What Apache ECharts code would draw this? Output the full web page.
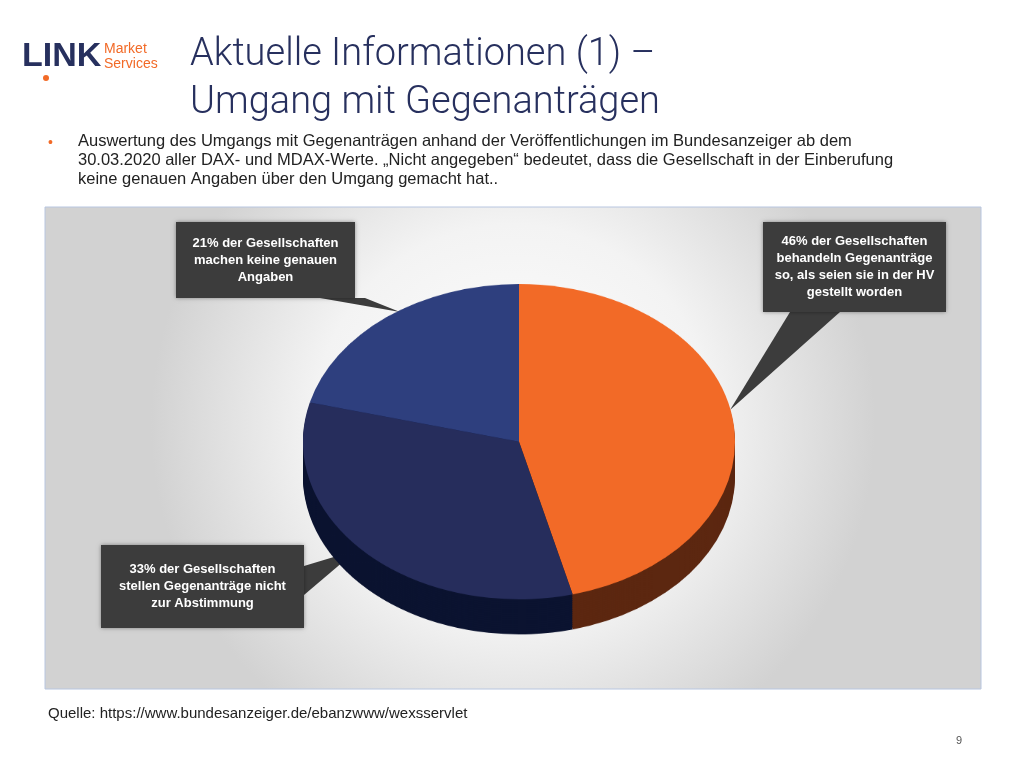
<!DOCTYPE html>
<html>
<head>
<meta charset="utf-8">
<script src="https://cdn.jsdelivr.net/npm/echarts@6/dist/echarts.min.js"></script>
<style>
html,body{margin:0;padding:0;background:#fff;}
#main{position:absolute;left:0;top:0;width:1024px;height:768px;}
#pie{position:absolute;left:303px;top:284px;width:432px;height:490px;transform:scaleY(0.73);transform-origin:top left;}
</style>
</head>
<body>
<div id="main"></div>
<div id="pie"></div>
<script>
// Daten
var categories = ['behandeln wie in HV gestellt', 'nicht zur Abstimmung', 'keine genauen Angaben'];
var values = [46, 33, 21];
var topColors = ['#F26A27', '#262D5C', '#2E3F7E'];
var sideColors = ['#5C2710', '#0B1330', '#111A40'];
var calloutTexts = [
    '46% der Gesellschaften\nbehandeln Gegenanträge\nso, als seien sie in der HV\ngestellt worden',
    '33% der Gesellschaften\nstellen Gegenanträge nicht\nzur Abstimmung',
    '21% der Gesellschaften\nmachen keine genauen\nAngaben'
];

var font = 'Helvetica, Arial, "Liberation Sans", sans-serif';

// Seite
var page = echarts.init(document.getElementById('main'));
function box(x, y, w, h, tri, txt) {
    return [
        { type: 'polygon', shape: { points: tri }, style: { fill: '#3C3C3C' } },
        { type: 'rect', shape: { x: x, y: y, width: w, height: h }, style: { fill: '#3C3C3C', shadowBlur: 4, shadowColor: 'rgba(0,0,0,0.4)' } },
        { type: 'text', x: x + w / 2, y: y + h / 2, style: { text: txt, fill: '#fff', font: 'bold 13px ' + font, align: 'center', verticalAlign: 'middle', lineHeight: 17 } }
    ];
}
var g = [
    { type: 'text', x: 22, y: 40, style: { text: 'LINK', fill: '#27305E', font: 'bold 34px ' + font } },
    { type: 'circle', shape: { cx: 46, cy: 78, r: 3 }, style: { fill: '#F26A27' } },
    { type: 'text', x: 104, y: 42, style: { text: 'Market\nServices', fill: '#F26A27', font: '14px ' + font, lineHeight: 15 } },
    { type: 'text', x: 190, y: 31, style: { text: 'Aktuelle Informationen (1) –\nUmgang mit Gegenanträgen', fill: '#27305E', font: '300 38px Roboto, sans-serif', lineHeight: 48 } },
    { type: 'text', x: 48, y: 136, style: { text: '•', fill: '#F26A27', font: '14px ' + font } },
    { type: 'text', x: 78, y: 132, style: { text: 'Auswertung des Umgangs mit Gegenanträgen anhand der Veröffentlichungen im Bundesanzeiger ab dem\n30.03.2020 aller DAX- und MDAX-Werte. „Nicht angegeben“ bedeutet, dass die Gesellschaft in der Einberufung\nkeine genauen Angaben über den Umgang gemacht hat..', fill: '#222', font: '16.5px ' + font, lineHeight: 19 } },
    { type: 'rect', shape: { x: 45, y: 207, width: 936, height: 482 },
      style: { fill: { type: 'radial', x: 0.5, y: 0.45, r: 0.75, colorStops: [{ offset: 0, color: '#ffffff' }, { offset: 0.55, color: '#f3f3f3' }, { offset: 1, color: '#d2d2d2' }] }, stroke: '#B8C6E0', lineWidth: 1 } },
    { type: 'text', x: 48, y: 706, style: { text: 'Quelle: https://www.bundesanzeiger.de/ebanzwww/wexsservlet', fill: '#222', font: '15px ' + font } },
    { type: 'text', x: 956, y: 735, style: { text: '9', fill: '#555', font: '11px ' + font } }
];
g = g.concat(box(763, 222, 183, 90, [[790, 312], [840, 312], [730, 410]], calloutTexts[0]));
g = g.concat(box(101, 545, 203, 83, [[304, 566], [304, 595], [357, 550]], calloutTexts[1]));
g = g.concat(box(176, 222, 179, 76, [[320, 298], [365, 298], [400, 312]], calloutTexts[2]));
page.setOption({ animation: false, graphic: g });

// Torte (3D-Optik durch gestapelte Schichten)
var pie = echarts.init(document.getElementById('pie'));
var series = [];
for (var d = 48; d > 0; d -= 3) {
    series.push({
        type: 'pie', radius: 216, center: [216, 216 + d], startAngle: 90, clockwise: true,
        silent: true, label: { show: false }, labelLine: { show: false },
        data: values.map(function (v, i) { return { value: v, name: categories[i], itemStyle: { color: sideColors[i] } }; })
    });
}
series.push({
    type: 'pie', radius: 216, center: [216, 216], startAngle: 90, clockwise: true,
    label: { show: false }, labelLine: { show: false },
    data: values.map(function (v, i) { return { value: v, name: categories[i], itemStyle: { color: topColors[i] } }; })
});
pie.setOption({ animation: false, series: series });
</script>
</body>
</html>
